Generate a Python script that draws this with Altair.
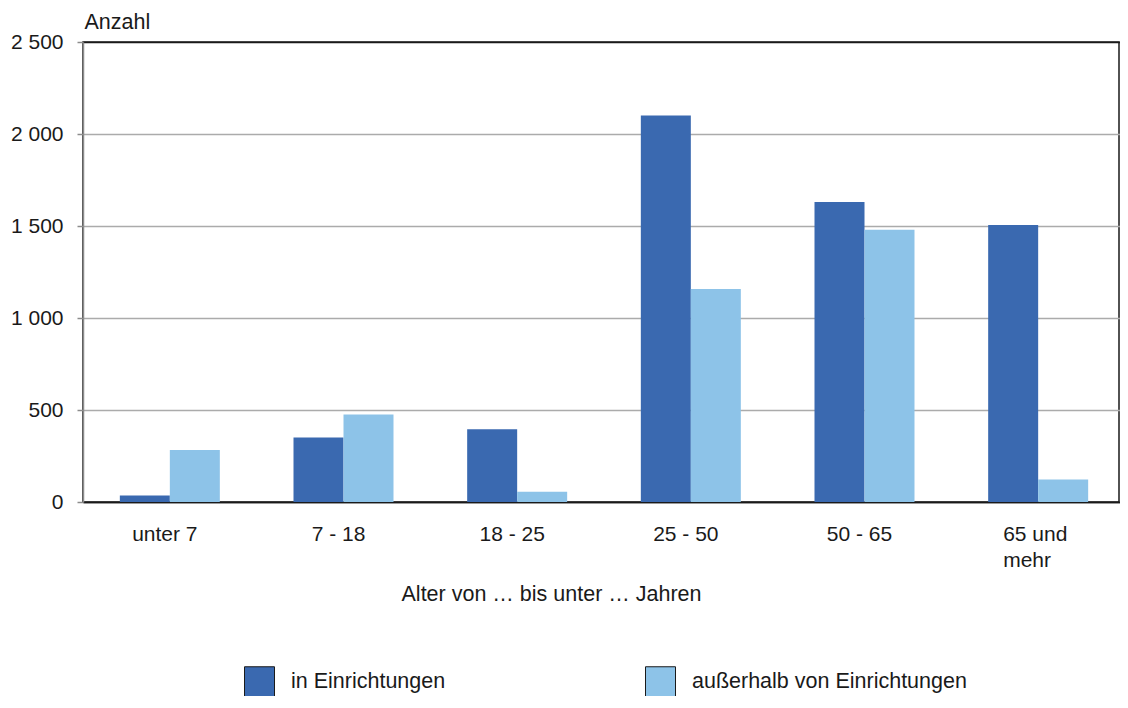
import altair as alt
import pandas as pd

categories = ["unter 7", "7 - 18", "18 - 25", "25 - 50", "50 - 65", "65 und mehr"]
series_names = ["in Einrichtungen", "außerhalb von Einrichtungen"]
in_einrichtungen = [35, 350, 395, 2100, 1630, 1505]
ausserhalb = [283, 476, 56, 1158, 1480, 122]
y_ticks = [0, 500, 1000, 1500, 2000, 2500]
colors = ["#3A69B0", "#8DC3E8"]

rows = []
for c, a, b in zip(categories, in_einrichtungen, ausserhalb):
    rows.append({"Alter": c, "Gruppe": series_names[0], "Anzahl": a})
    rows.append({"Alter": c, "Gruppe": series_names[1], "Anzahl": b})
df = pd.DataFrame(rows)

FONT = "Liberation Sans"
TXT = "#1a1a1a"
FS_TICK = 21
FS_TEXT = 21.5

x_axis = alt.Axis(
    title="Alter von … bis unter … Jahren",
    titleX=468, titleY=98, titleBaseline="alphabetic", titleAlign="center",
    titleFontWeight="normal", titleFontSize=FS_TEXT, titleColor=TXT, titleFont=FONT,
    labelAngle=0, ticks=False, tickSize=0, labelPadding=21, labelBaseline="top",
    labelFontSize=FS_TICK, labelColor=TXT, labelFont=FONT, labelLineHeight=26,
    labelExpr="datum.value == '65 und mehr' ? ['65 und', 'mehr'] : datum.label",
    labelAlign={"condition": {"test": "datum.value == '65 und mehr'", "value": "left"}, "value": "center"},
    labelOffset={"condition": {"test": "datum.value == '65 und mehr'", "value": -35}, "value": -5},
    domainColor=TXT, domainWidth=1.5, grid=False,
)

y_axis = alt.Axis(
    values=y_ticks, title="Anzahl", titleAngle=0, titleX=1, titleY=-14,
    titleAlign="left", titleBaseline="alphabetic", titleFontWeight="normal",
    titleFontSize=FS_TEXT, titleColor=TXT, titleFont=FONT,
    labelFontSize=FS_TICK, labelColor=TXT, labelFont=FONT, labelPadding=14,
    labelExpr="replace(format(datum.value, ','), ',', ' ')",
    tickSize=6, tickColor="#8c8c8c", tickWidth=1.5,
    domainColor="#8c8c8c", domainWidth=1.5,
    gridColor={"condition": {"test": "datum.value == 2500 || datum.value == 0", "value": TXT}, "value": "#ababab"},
    gridWidth=1.5,
)

legend = alt.Legend(
    title=None, orient="none", legendX=161, legendY=624, direction="horizontal",
    columns=2, columnPadding=197, symbolType="square", symbolSize=900,
    symbolStrokeColor=TXT, symbolStrokeWidth=1, symbolOpacity=1,
    labelFontSize=FS_TEXT, labelFont=FONT, labelColor=TXT, labelOffset=16,
    labelLimit=400, padding=0, labelBaseline="middle",
)

chart = alt.Chart(df).mark_bar().encode(
    x=alt.X("Alter:N", sort=categories,
            scale=alt.Scale(range=[0, 1042], paddingInner=0.4242, paddingOuter=0.2121),
            axis=x_axis),
    xOffset=alt.XOffset("Gruppe:N", sort=series_names,
                        scale=alt.Scale(paddingInner=0, paddingOuter=0)),
    y=alt.Y("Anzahl:Q", scale=alt.Scale(domain=[0, 2500], nice=False), axis=y_axis),
    color=alt.Color("Gruppe:N", sort=series_names,
                    scale=alt.Scale(domain=series_names, range=colors), legend=legend),
).properties(
    width=1036, height=460,
    autosize=alt.AutoSizeParams(type="none"),
    padding={"left": 75, "top": 34, "right": 1, "bottom": 194},
).configure(font=FONT).configure_view(stroke=TXT, strokeWidth=1.5)

chart.save("out.html", embed_options={"renderer": "svg", "actions": False})
